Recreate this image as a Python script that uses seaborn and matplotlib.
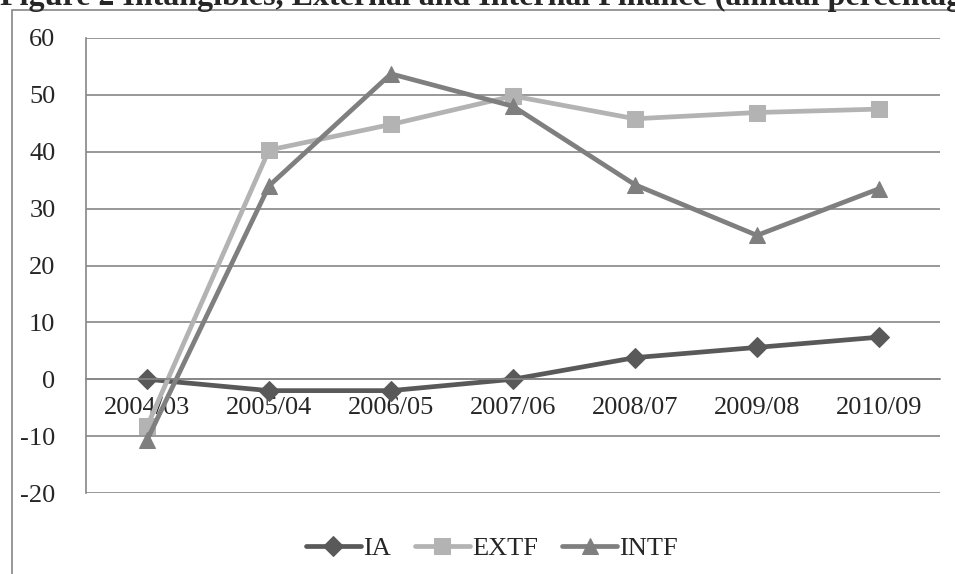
import pandas as pd
import numpy as np
import matplotlib
matplotlib.use("Agg")
import matplotlib.pyplot as plt
import seaborn as sns
from matplotlib.patches import Rectangle
from matplotlib.ticker import FixedLocator, NullFormatter

# Data
years = ["2004/03", "2005/04", "2006/05", "2007/06", "2008/07", "2009/08", "2010/09"]
ia = [0.0, -2.0, -2.0, 0.0, 3.8, 5.6, 7.4]
extf = [-8.3, 40.3, 44.8, 49.8, 45.8, 46.9, 47.5]
intf = [-10.7, 34.0, 53.7, 48.0, 34.2, 25.3, 33.5]

series = ["IA", "EXTF", "INTF"]
colors = {"IA": "#595959", "EXTF": "#b3b3b3", "INTF": "#7f7f7f"}
markers = {"IA": "D", "EXTF": "s", "INTF": "^"}
msizes = {"IA": 10, "EXTF": 12, "INTF": 12}

df = pd.DataFrame({"Year": years * 3,
                   "Value": ia + extf + intf,
                   "Series": ["IA"] * 7 + ["EXTF"] * 7 + ["INTF"] * 7})

sns.set_style("white")
plt.rcParams['font.family'] = ['Liberation Serif', 'DejaVu Serif']
plt.rcParams['axes.unicode_minus'] = False

W, H = 955, 574
fig = plt.figure(figsize=(W / 100, H / 100), dpi=100)

# outer chart frame (cropped at right and bottom)
fig.patches.append(Rectangle((12 / W, -0.2), 2.0, 1.2 - 10 / H, transform=fig.transFigure,
                             fill=False, edgecolor="#868686", linewidth=1.2, zorder=0))

# title, partly cut off at the top as in the source page
fig.text(0.0, 1 - 5 / H, "Figure 2 Intangibles, External and Internal Finance (annual percentage change)",
         fontsize=23, fontweight="bold", ha="left", va="baseline")

ax = fig.add_axes([86 / W, 1 - 493 / H, (940 - 86) / W, (493 - 38) / H])

for name in series:
    sub = df[df["Series"] == name]
    sns.lineplot(data=sub, x="Year", y="Value", ax=ax, color=colors[name],
                 marker=markers[name], markersize=msizes[name], markeredgecolor=colors[name],
                 linewidth=3.4, label=name, sort=False)

ax.set_ylim(-20, 60)
ax.set_xlim(-0.5, 6.5)
ax.set_yticks(range(-20, 61, 10))
ax.yaxis.grid(True, color="#868686", linewidth=1.2)
ax.set_axisbelow(True)
ax.set_xlabel("")
ax.set_ylabel("")

for s in ["top", "right"]:
    ax.spines[s].set_visible(False)
ax.spines["left"].set_color("#868686")
ax.spines["left"].set_linewidth(1.2)
ax.spines["bottom"].set_color("#868686")
ax.spines["bottom"].set_linewidth(1.2)
ax.spines["bottom"].set_position(("data", 0))

ax.tick_params(axis="y", direction="out", length=8, color="#868686", width=1.2,
               labelsize=19, pad=14)
ax.tick_params(axis="x", which="major", length=0, labelsize=19, pad=13)
ax.xaxis.set_minor_locator(FixedLocator(np.arange(-0.5, 7, 1)))
ax.xaxis.set_minor_formatter(NullFormatter())
ax.tick_params(axis="x", which="minor", direction="out", length=7, color="#868686", width=1.2)

leg = ax.legend(loc="center", bbox_to_anchor=(492 / W, 1 - 548 / H), bbox_transform=fig.transFigure,
                ncol=3, frameon=False, fontsize=19, handlelength=2.1, handletextpad=0.08,
                columnspacing=0.9)

fig.savefig("out.png", dpi=100)
